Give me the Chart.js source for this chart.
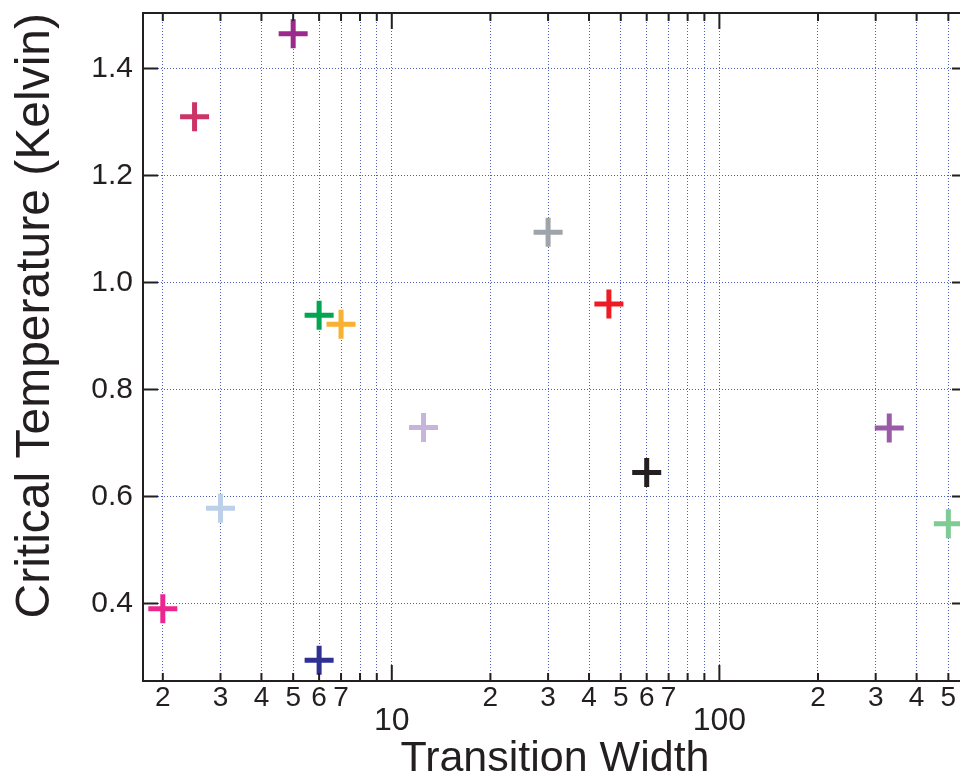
<!DOCTYPE html>
<html>
<head>
<meta charset="utf-8">
<script src="https://cdn.jsdelivr.net/npm/chart.js@4.4.0/dist/chart.umd.min.js"></script>
<style>
  html, body { margin: 0; padding: 0; background: #fff; overflow: hidden; }
  #wrap { width: 980px; height: 780px; }
</style>
</head>
<body>
<div id="wrap"><canvas id="chart" width="980" height="780"></canvas></div>
<script>
// transition width (x, log) and critical temperature in K (y)
const widths = [2.0, 2.5, 3.0, 5.0, 6.0, 6.0, 7.0, 12.5, 30, 46, 60, 330, 500];
const temps  = [0.39, 1.31, 0.578, 1.465, 0.939, 0.294, 0.922, 0.729, 1.094, 0.96, 0.645, 0.728, 0.549];
const pointColors = ['#ec268f', '#cc3366', '#bdd0ea', '#9b2a8c', '#00a651', '#2e3192', '#f8b133',
                     '#c6b5d8', '#9ea4a9', '#ed1c24', '#231f20', '#9a5ca6', '#7fcb94'];

const xTicks = [2, 3, 4, 5, 6, 7, 8, 9, 10, 20, 30, 40, 50, 60, 70, 80, 90, 100, 200, 300, 400, 500];
const xLabelled = [2, 3, 4, 5, 6, 7, 20, 30, 40, 50, 60, 70, 200, 300, 400, 500];
const xMajor = [10, 100];
const yTicks = [0.4, 0.6, 0.8, 1.0, 1.2, 1.4];

const ink = '#231f20';
const gridColor = 'rgba(60, 80, 190, 0.9)';
Chart.defaults.font.family = "'Liberation Sans', Arial, sans-serif";

const leadDigit = v => Math.round(v / Math.pow(10, Math.floor(Math.log10(v) + 1e-9)));

// frame + inward tick marks on all four sides, placed by the scales
const frame = {
  id: 'frame',
  afterDatasetsDraw(chart) {
    const { ctx, chartArea: a, scales: { x, y } } = chart;
    ctx.save();
    ctx.strokeStyle = ink;
    ctx.lineWidth = 2;
    ctx.beginPath();
    x.ticks.forEach(t => {
      const px = x.getPixelForValue(t.value);
      const len = xMajor.includes(t.value) ? 16 : 8;
      ctx.moveTo(px, a.bottom); ctx.lineTo(px, a.bottom - len);
      ctx.moveTo(px, a.top); ctx.lineTo(px, a.top + len);
    });
    y.ticks.forEach(t => {
      const py = y.getPixelForValue(t.value);
      ctx.moveTo(a.left, py); ctx.lineTo(a.left + 15, py);
      ctx.moveTo(a.right, py); ctx.lineTo(a.right - 15, py);
    });
    ctx.stroke();
    ctx.strokeRect(a.left, a.top, a.right - a.left, a.bottom - a.top);
    ctx.restore();
  }
};

new Chart(document.getElementById('chart'), {
  type: 'scatter',
  data: {
    datasets: [{
      data: widths.map((w, i) => ({ x: w, y: temps[i] })),
      pointStyle: 'cross',
      pointRadius: 14.5,
      pointHoverRadius: 14.5,
      pointBorderWidth: 5,
      pointHoverBorderWidth: 5,
      pointBorderColor: pointColors,
      pointBackgroundColor: pointColors
    }]
  },
  options: {
    responsive: false,
    animation: false,
    devicePixelRatio: 1,
    events: [],
    layout: { autoPadding: false, padding: { top: 13, right: 13, left: 0, bottom: 0 } },
    plugins: { legend: { display: false }, tooltip: { enabled: false } },
    scales: {
      x: {
        type: 'logarithmic',
        min: 1.74,
        max: 570,
        afterBuildTicks: s => { s.ticks = xTicks.map(v => ({ value: v })); },
        afterFit: s => { s.height = 99; s.paddingLeft = 0; s.paddingRight = 0; },
        grid: { color: gridColor, lineWidth: 1, drawTicks: false },
        border: { display: false, dash: [1, 2] },
        ticks: {
          autoSkip: false,
          maxRotation: 0,
          padding: 6,
          color: ink,
          font: c => xMajor.includes(c.tick && c.tick.value)
            ? { size: 32, lineHeight: 0.72 }
            : { size: 28, lineHeight: 0.8 },
          callback: v => xMajor.includes(v) ? ['', String(v)]
            : (xLabelled.includes(v) ? String(leadDigit(v)) : '')
        },
        title: {
          display: true,
          text: 'Transition Width',
          color: ink,
          font: { size: 43, lineHeight: 0.95 },
          padding: 0
        }
      },
      y: {
        min: 0.255,
        max: 1.504,
        afterBuildTicks: s => { s.ticks = yTicks.map(v => ({ value: v })); },
        afterFit: s => { s.width = 143; s.paddingTop = 0; s.paddingBottom = 0; },
        grid: { color: gridColor, lineWidth: 1, drawTicks: false },
        border: { display: false, dash: [1, 2] },
        ticks: {
          padding: 10,
          color: ink,
          font: { size: 30 },
          callback: v => v.toFixed(1)
        },
        title: {
          display: true,
          text: 'Critical Temperature (Kelvin)',
          color: ink,
          align: 'end',
          font: { size: 48, lineHeight: 1 },
          padding: { top: 12, bottom: 0 }
        }
      }
    }
  },
  plugins: [frame]
});
</script>
</body>
</html>
